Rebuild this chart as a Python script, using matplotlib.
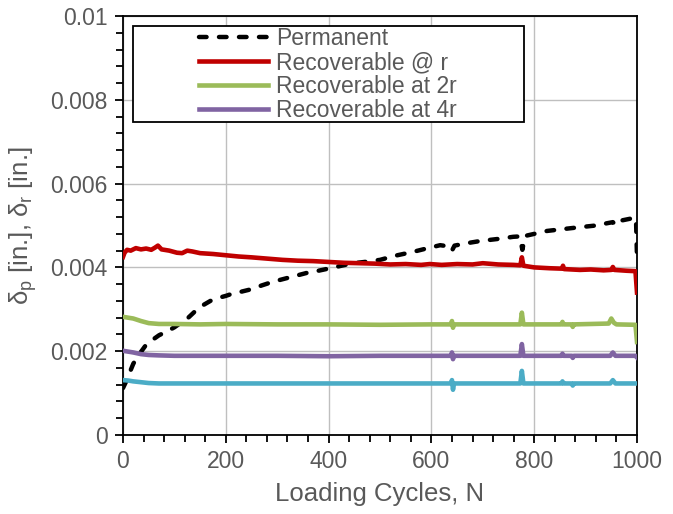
import matplotlib
matplotlib.use("Agg")
import matplotlib.pyplot as plt
from matplotlib.patches import Rectangle
from matplotlib.ticker import MultipleLocator, FixedLocator, FixedFormatter

plt.rcParams['font.family'] = ['Liberation Sans', 'DejaVu Sans']

# Permanent deformation (black dashed)
perm_n = [0, 5, 10, 20, 30, 43, 55, 70, 85, 100, 115, 127, 140, 156, 170, 185, 200,
          212, 230, 250, 270, 290, 305, 330, 358, 380, 403, 425, 448, 470, 500, 530,
          564, 590, 617, 635, 640, 645, 670, 695, 730, 759, 772, 777, 782, 800, 825,
          860, 889, 920, 940, 953, 960, 970, 990, 998, 1000]
perm_v = [0.00112, 0.00125, 0.00140, 0.00170, 0.00190, 0.00212, 0.00225, 0.00238,
          0.00247, 0.00257, 0.00270, 0.00280, 0.00295, 0.00310, 0.00320, 0.00327,
          0.00332, 0.00337, 0.00342, 0.00348, 0.00357, 0.00365, 0.00370, 0.00378,
          0.00387, 0.00392, 0.00398, 0.00404, 0.00410, 0.00413, 0.00418, 0.00428,
          0.00437, 0.00445, 0.00453, 0.00450, 0.00440, 0.00452, 0.00458, 0.00463,
          0.00468, 0.00473, 0.00474, 0.00442, 0.00475, 0.00480, 0.00487, 0.00492,
          0.00496, 0.00500, 0.00505, 0.00508, 0.00500, 0.00512, 0.00517, 0.00518,
          0.00425]

# Recoverable @ r (red)
r1_n = [0, 3, 8, 15, 25, 35, 45, 55, 62, 68, 75, 90, 105, 115, 125, 135, 150, 175,
        200, 225, 250, 280, 310, 340, 370, 400, 430, 460, 490, 520, 550, 580, 597,
        620, 650, 680, 700, 730, 760, 773, 776, 779, 800, 830, 854, 856, 858, 889,
        910, 935, 950, 953, 956, 980, 997, 1000]
r1_v = [0.00425, 0.00435, 0.00442, 0.00440, 0.00446, 0.00443, 0.00445, 0.00442,
        0.00447, 0.00452, 0.00443, 0.00440, 0.00435, 0.00434, 0.00440, 0.00438,
        0.00434, 0.00432, 0.00429, 0.00426, 0.00424, 0.00421, 0.00418, 0.00416,
        0.00415, 0.00413, 0.00411, 0.00410, 0.00409, 0.00407, 0.00408, 0.00406,
        0.00408, 0.00406, 0.00408, 0.00407, 0.00410, 0.00407, 0.00406, 0.00405,
        0.00424, 0.00404, 0.00400, 0.00398, 0.00397, 0.00404, 0.00396, 0.00394,
        0.00395, 0.00393, 0.00394, 0.00401, 0.00394, 0.00392, 0.00391, 0.00340]

# Recoverable at 2r (green)
r2_n = [0, 10, 20, 35, 50, 70, 100, 150, 200, 300, 400, 500, 600, 638, 640, 642, 644,
        700, 773, 776, 779, 853, 855, 857, 873, 875, 877, 945, 950, 955, 960, 997,
        1000]
r2_v = [0.00282, 0.00280, 0.00278, 0.00272, 0.00267, 0.00265, 0.00265, 0.00264,
        0.00265, 0.00264, 0.00264, 0.00263, 0.00264, 0.00264, 0.00272, 0.00256,
        0.00264, 0.00264, 0.00264, 0.00292, 0.00264, 0.00264, 0.00270, 0.00264,
        0.00264, 0.00258, 0.00264, 0.00266, 0.00278, 0.00268, 0.00264, 0.00263,
        0.00222]

# Recoverable at 4r (purple)
r4_n = [0, 10, 20, 35, 50, 70, 100, 200, 300, 400, 500, 600, 638, 640, 642, 644, 700,
        773, 776, 779, 853, 855, 857, 873, 875, 877, 948, 953, 958, 997, 1000]
r4_v = [0.00201, 0.00199, 0.00197, 0.00193, 0.00191, 0.00190, 0.00189, 0.00189,
        0.00189, 0.00188, 0.00189, 0.00189, 0.00189, 0.00197, 0.00181, 0.00189,
        0.00189, 0.00189, 0.00217, 0.00189, 0.00189, 0.00194, 0.00189, 0.00189,
        0.00184, 0.00189, 0.00189, 0.00197, 0.00189, 0.00189, 0.00185]

# Recoverable at 8r (cyan, not in legend)
r8_n = [0, 10, 20, 35, 50, 70, 100, 200, 300, 400, 500, 600, 638, 640, 642, 644, 700,
        773, 776, 779, 853, 855, 857, 873, 875, 877, 948, 953, 958, 1000]
r8_v = [0.00131, 0.00130, 0.00128, 0.00126, 0.00124, 0.00123, 0.00123, 0.00123,
        0.00123, 0.00123, 0.00123, 0.00123, 0.00123, 0.00131, 0.00108, 0.00123,
        0.00123, 0.00123, 0.00153, 0.00123, 0.00123, 0.00128, 0.00123, 0.00123,
        0.00118, 0.00123, 0.00123, 0.00131, 0.00123, 0.00123]

y_ticks = [0, 0.002, 0.004, 0.006, 0.008, 0.01]
y_labels = ['0', '0.002', '0.004', '0.006', '0.008', '0.01']

gris = '#595959'

fig = plt.figure(figsize=(6.73, 5.14), dpi=100)
ax = fig.add_axes([123 / 673, 1 - 435 / 514, 514 / 673, 419 / 514])

ax.plot(perm_n, perm_v, color='black', lw=3.2, dashes=(1.7, 2.8), dash_capstyle='round',
        label='Permanent', zorder=3)
ax.plot(r1_n, r1_v, color='#C00000', lw=3.3, label='Recoverable @ r', zorder=3)
ax.plot(r2_n, r2_v, color='#9BBB59', lw=3.3, label='Recoverable at 2r', zorder=3)
ax.plot(r4_n, r4_v, color='#8064A2', lw=3.3, label='Recoverable at 4r', zorder=3)
ax.plot(r8_n, r8_v, color='#4BACC6', lw=3.3, zorder=3)

ax.set_xlim(0, 1000)
ax.set_ylim(0, 0.01)
ax.xaxis.set_major_locator(MultipleLocator(200))
ax.xaxis.set_minor_locator(MultipleLocator(40))
ax.yaxis.set_major_locator(FixedLocator(y_ticks))
ax.yaxis.set_major_formatter(FixedFormatter(y_labels))
ax.yaxis.set_minor_locator(MultipleLocator(0.0004))

ax.grid(True, which='major', color='#bfbfbf', lw=1)
ax.set_axisbelow(True)
for s in ax.spines.values():
    s.set_color('black')
    s.set_linewidth(1.3)

ax.tick_params(which='both', direction='out', color='black', width=1.3,
               labelsize=16.5, labelcolor=gris)
ax.tick_params(which='major', length=6, pad=5)
ax.tick_params(which='minor', length=5)

ax.set_xlabel('Loading Cycles, N', fontsize=18.5, color=gris, labelpad=6)
ax.set_ylabel(r'δ$_\mathregular{p}$ [in.], δ$_\mathregular{r}$ [in.]', fontsize=18.5,
              color=gris, labelpad=8)

# caja de la leyenda
caja = Rectangle(((133 - 123) / 514, (435 - 122) / 419), (524 - 133) / 514, 96 / 419,
                 transform=ax.transAxes, facecolor='white', edgecolor='black',
                 lw=1.3, zorder=4)
ax.add_patch(caja)

leg = ax.legend(loc='upper left', bbox_to_anchor=((199 - 123) / 514, (435 - 27) / 419),
                frameon=False, fontsize=16.5, handlelength=3.0, handletextpad=0.35,
                labelspacing=0.05, borderpad=0, borderaxespad=0)
leg.set_zorder(5)
for t in leg.get_texts():
    t.set_color(gris)

fig.savefig('out.png', dpi=100)
